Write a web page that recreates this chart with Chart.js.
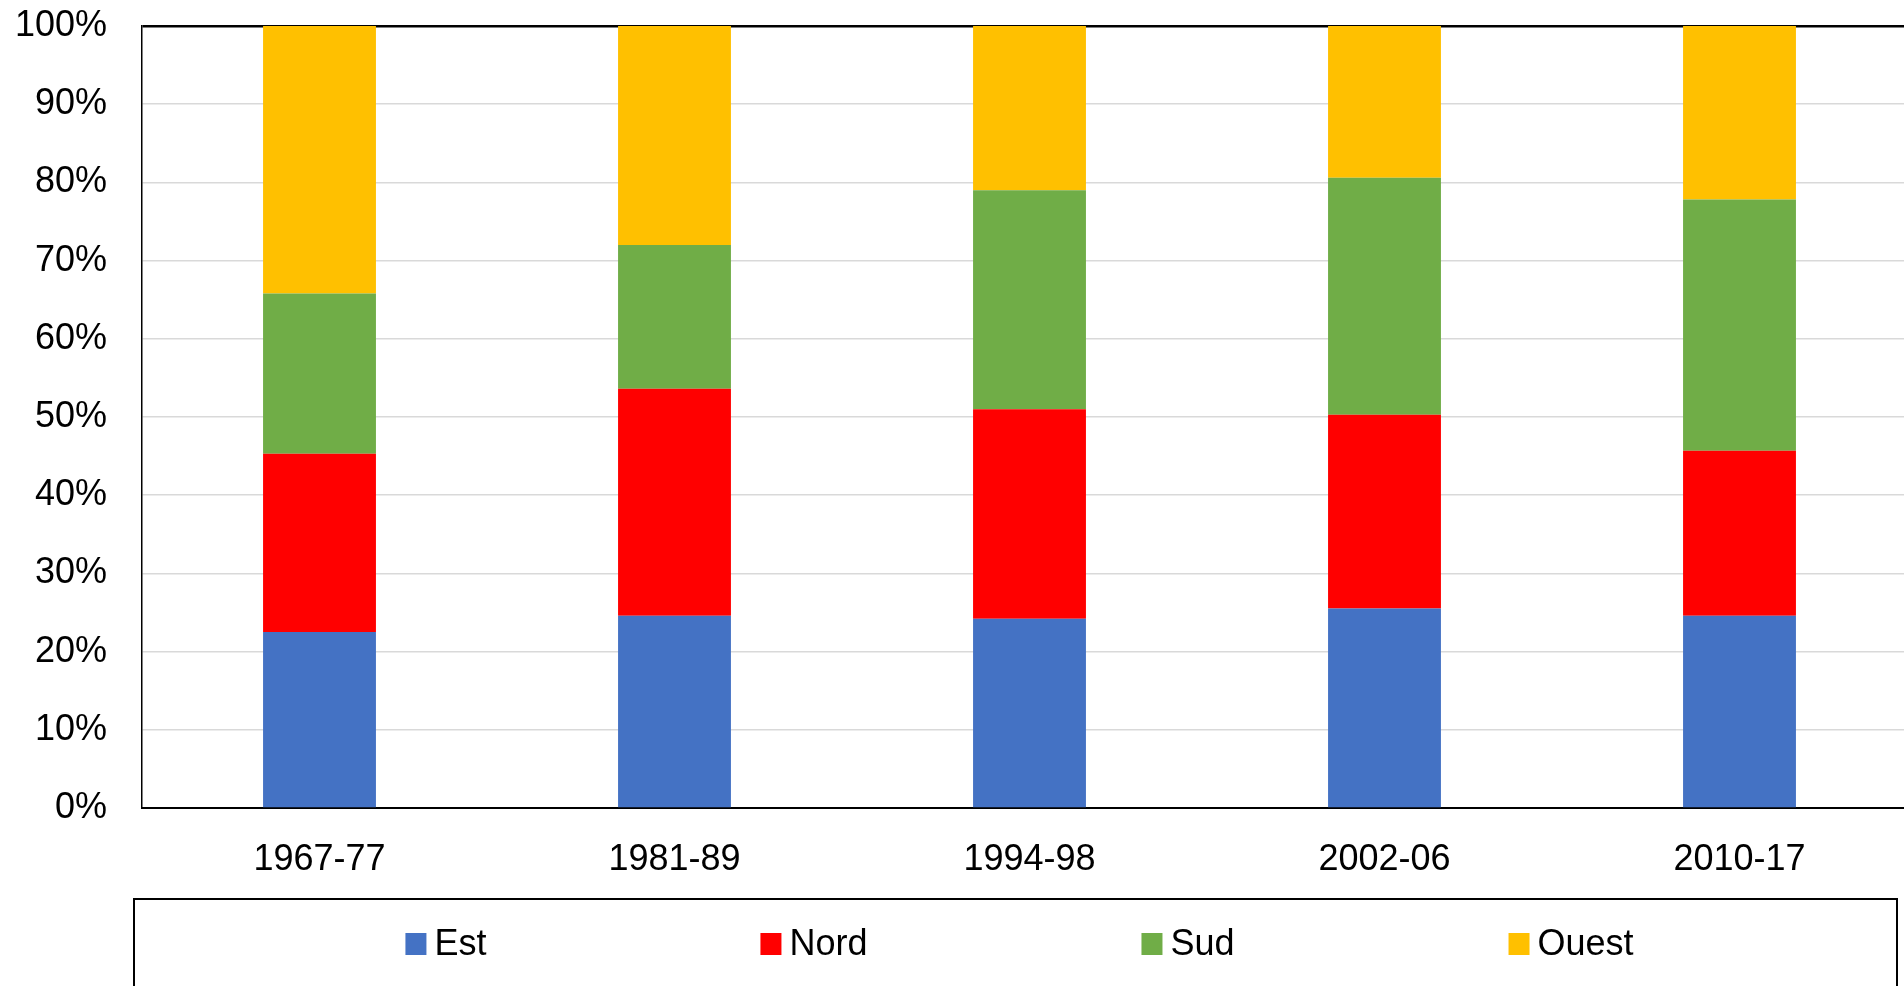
<!DOCTYPE html>
<html>
<head>
<meta charset="utf-8">
<script src="https://cdn.jsdelivr.net/npm/chart.js@4/dist/chart.umd.min.js"></script>
<style>
  html, body { margin: 0; padding: 0; background: #fff; overflow: hidden; }
  #wrap { position: relative; width: 1930px; height: 986px; }
</style>
</head>
<body>
<div id="wrap"><canvas id="regions"></canvas></div>
<script>
const periods = ['1967-77', '1981-89', '1994-98', '2002-06', '2010-17'];
const est   = [22.5, 24.6, 24.2, 25.5, 24.6];
const nord  = [22.8, 29.0, 26.8, 24.8, 21.1];
const sud   = [20.5, 18.4, 28.0, 30.3, 32.1];
const ouest = [34.2, 28.0, 21.0, 19.4, 22.2];
const yTicks = [0, 10, 20, 30, 40, 50, 60, 70, 80, 90, 100];

const FONT = '"Liberation Sans", Arial, sans-serif';

// boxed legend along the bottom, like the spreadsheet one
const boxLegend = {
    id: 'boxLegend',
    afterDraw(chart) {
        const c = chart.ctx;
        const left = 134, right = 1897, top = 899;
        c.save();
        c.strokeStyle = '#000';
        c.lineWidth = 2;
        c.strokeRect(left, top, right - left, 200);
        c.font = '36px ' + FONT;
        c.textBaseline = 'alphabetic';
        const gap = 274, box = 21, textOff = 29;
        const items = chart.data.datasets.map(ds => ({
            label: ds.label, color: ds.backgroundColor,
            w: textOff + c.measureText(ds.label).width
        }));
        const total = items.reduce((s, it) => s + it.w, 0) + gap * (items.length - 1);
        let x = (left + right) / 2 + 4 - total / 2;
        items.forEach(it => {
            c.fillStyle = it.color;
            c.fillRect(x, 933, box, 22);
            c.fillStyle = '#000';
            c.fillText(it.label, x + textOff, 955);
            x += it.w + gap;
        });
        c.restore();
    }
};

let ctxRegions = document.getElementById('regions').getContext('2d');
let regionChart = new Chart(ctxRegions, {
    type: 'bar',
    data: {
        labels: periods,
        datasets: [
            { label: 'Est',   data: est,   backgroundColor: '#4472C4' },
            { label: 'Nord',  data: nord,  backgroundColor: '#FF0000' },
            { label: 'Sud',   data: sud,   backgroundColor: '#70AD47' },
            { label: 'Ouest', data: ouest, backgroundColor: '#FFC000' }
        ]
    },
    options: {
        responsive: true,
        maintainAspectRatio: false,
        animation: false,
        barPercentage: 0.318,
        categoryPercentage: 1.0,
        layout: {
            padding: { top: 26, left: 0, right: 13, bottom: 98 }
        },
        plugins: {
            legend: { display: false },
            tooltip: { enabled: false }
        },
        scales: {
            x: {
                stacked: true,
                grid: { display: false },
                border: { display: true, color: '#000', width: 2 },
                ticks: {
                    color: '#000',
                    font: { family: FONT, size: 36 },
                    padding: 22
                },
                afterFit(scale) {
                    scale.height = 80;
                    scale.paddingLeft = 0;
                    scale.paddingRight = 0;
                }
            },
            y: {
                stacked: true,
                min: 0,
                max: 100,
                afterBuildTicks(scale) {
                    scale.ticks = yTicks.map(v => ({ value: v }));
                },
                grid: {
                    drawTicks: false,
                    color: c => (c.tick && c.tick.value === 100) ? '#000' : '#d9d9d9',
                    lineWidth: c => (c.tick && c.tick.value === 100) ? 2.5 : 1.5
                },
                border: { display: true, color: '#000', width: 1.5 },
                ticks: {
                    color: '#000',
                    font: { family: FONT, size: 36 },
                    padding: 35,
                    callback: v => v + '%'
                },
                afterFit(scale) {
                    scale.width = 142;
                    scale.paddingTop = 0;
                    scale.paddingBottom = 0;
                }
            }
        }
    },
    plugins: [boxLegend]
});
</script>
</body>
</html>
